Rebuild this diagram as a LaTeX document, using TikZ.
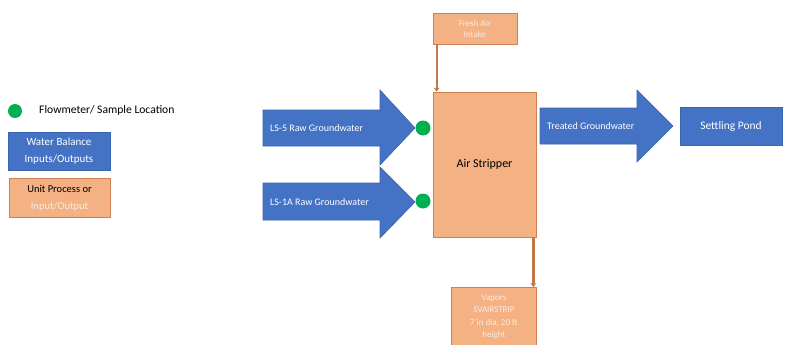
\documentclass[tikz,border=0pt]{standalone}
\usepackage{fontspec}
\setmainfont{Carlito}
\usetikzlibrary{arrows.meta,calc}
\definecolor{wblue}{HTML}{4472C4}
\definecolor{wblueline}{HTML}{3A64B0}
\definecolor{uorange}{HTML}{F4B183}
\definecolor{uoline}{HTML}{D08050}
\definecolor{conn}{HTML}{C07848}
\definecolor{fgreen}{HTML}{00B050}
\definecolor{paletext}{HTML}{FCEBDD}
\tikzset{
  bluebox/.style={draw=wblueline,fill=wblue,text=white,line width=0.6pt,inner sep=0pt,align=center},
  orbox/.style={draw=uoline,fill=uorange,line width=0.8pt,inner sep=0pt,align=center},
  blockarrow/.style={draw=wblueline,fill=wblue,line width=0.6pt},
  lbl/.style={text=white,font=\fontsize{10}{12}\selectfont,anchor=west,inner sep=0pt},
  fm/.style={circle,fill=fgreen,inner sep=0pt,minimum size=15pt},
  flowline/.style={draw=conn,line width=2.2pt,-{Stealth[length=4pt,width=6pt]}}
}
\begin{document}
\begin{tikzpicture}[x=1pt,y=-1pt]
\useasboundingbox (0,0) rectangle (785,345);
% legend
\node[fm,minimum size=14pt] (lgreen) at (15,111) {};
\node[anchor=west,inner sep=0pt,font=\fontsize{11.6}{13}\selectfont] (lgtxt) at (39,110) {Flowmeter/ Sample Location};
\node[bluebox,minimum width=102pt,minimum height=38pt,font=\fontsize{11}{17}\selectfont] (lblue) at (59,151) {Water Balance\\Inputs/Outputs};
\node[orbox,minimum width=101pt,minimum height=39pt,font=\fontsize{10.5}{17}\selectfont] (lorange) at (59.5,198) {Unit Process or\\\textcolor{paletext}{Input/Output}};
% air stripper
\node[orbox,minimum width=103pt,minimum height=145pt,font=\fontsize{12}{14}\selectfont] (strip) at (484.5,164.5) {Air Stripper};
\node[orbox,minimum width=84pt,minimum height=31pt,text=paletext,font=\fontsize{9}{11}\selectfont] (fresh) at (475,28.5) {Fresh Air\\Intake};
\node[orbox,anchor=north west,minimum width=85pt,minimum height=62pt,text=paletext,font=\fontsize{9}{12.5}\selectfont,text depth=5pt] (vap) at (451,287) {Vapors\\SVAIRSTRIP\\7 in dia, 20 ft\\height};
% connectors
\coordinate (fa) at ($(fresh.south west)+(4,0)$);
\draw[flowline] (fa) -- (fa |- strip.north);
\coordinate (va) at ($(strip.south east)+(-3,0)$);
\draw[flowline] (va) -- (va |- vap.north);
% block arrows
\draw[blockarrow] (263,110) -- (380,110) -- (380,90) -- (415,128) -- (380,165) -- (380,146) -- (263,146) -- cycle;
\node[lbl] (ls5) at (270,128) {LS-5 Raw Groundwater};
\draw[blockarrow] (263,183) -- (380,183) -- (380,167) -- (415,202) -- (380,238) -- (380,220) -- (263,220) -- cycle;
\node[lbl] (ls1a) at (270,202) {LS-1A Raw Groundwater};
\node[fm] (f1) at (423,128) {};
\node[fm] (f2) at (423,201) {};
\draw[blockarrow] (540,108) -- (637,108) -- (637,90) -- (673,126) -- (637,162) -- (637,144) -- (540,144) -- cycle;
\node[lbl] (tg) at (547,126) {Treated Groundwater};
\node[bluebox,minimum width=102pt,minimum height=38pt,font=\fontsize{11.5}{13}\selectfont] (pond) at (731,126) {Settling Pond};
\end{tikzpicture}
\end{document}
